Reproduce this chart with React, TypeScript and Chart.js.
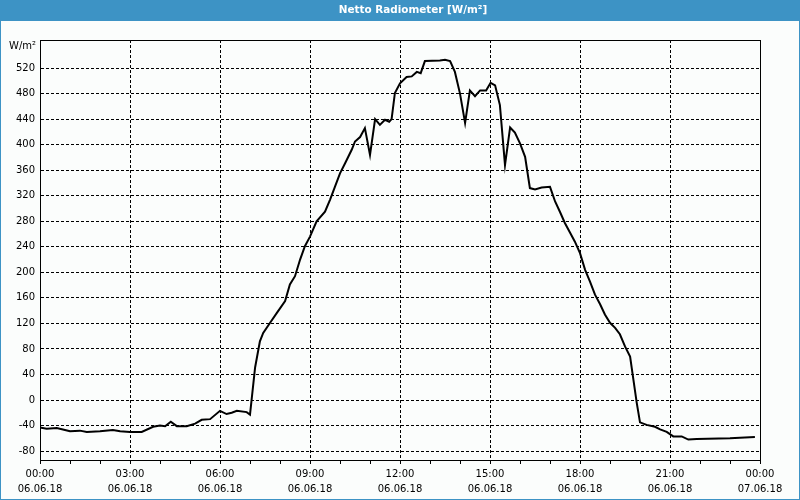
import React, { useEffect, useRef } from "react";
import { Chart, registerables } from "chart.js";

Chart.register(...registerables);

const TITLE = "Netto Radiometer [W/m²]";
const UNIT = "W/m²";

// time of day in hours
const timesH = [
  0.0, 0.22, 0.56, 1.0, 1.33, 1.56, 2.0, 2.43, 2.67, 3.0, 3.39, 3.77, 4.0, 4.17, 4.36, 4.56, 4.89,
  5.17, 5.39, 5.67, 6.0, 6.22, 6.39, 6.56, 6.89, 7.0, 7.17, 7.33, 7.44, 7.67, 7.89, 8.17, 8.33,
  8.5, 8.67, 8.83, 9.0, 9.22, 9.5, 9.67, 9.83, 10.0, 10.17, 10.39, 10.5, 10.67, 10.83, 11.0,
  11.17, 11.33, 11.5, 11.64, 11.72, 11.83, 12.0, 12.22, 12.39, 12.56, 12.69, 12.83, 13.33,
  13.5, 13.67, 13.83, 14.0, 14.17, 14.33, 14.5, 14.67, 14.87, 15.02, 15.17, 15.33, 15.5, 15.67,
  15.83, 16.0, 16.17, 16.33, 16.5, 16.72, 17.0, 17.17, 17.33, 17.5, 17.67, 17.83, 18.0, 18.17,
  18.33, 18.5, 18.67, 18.83, 19.0, 19.17, 19.33, 19.5, 19.67, 19.78, 19.89, 20.0, 20.22, 20.5,
  20.67, 20.89, 21.11, 21.39, 21.61, 21.89, 23.0, 23.83,
];

const values = [
  -43, -45, -44, -49, -48, -50, -49, -47, -49, -50, -50, -42, -40, -41, -34, -41, -41,
  -37, -31, -30, -17, -22, -20, -17, -19, -23, 51, 92, 105, 121, 136, 155, 181,
  194, 220, 241, 256, 280, 295, 314, 334, 355, 371, 392, 405, 412, 426, 384,
  440, 431, 439, 436, 440, 481, 496, 506, 507, 514, 512, 531, 532,
  533, 531, 514, 480, 434, 485, 476, 485, 485, 497, 493, 462, 368, 427,
  419, 402, 381, 332, 330, 333, 334, 311, 295, 277, 262, 248, 230, 204,
  186, 165, 150, 134, 121, 113, 103, 84, 68, 32, -4, -35, -39, -42,
  -46, -50, -57, -57, -62, -61, -60, -58,
];

const yTicks = [-80, -40, 0, 40, 80, 120, 160, 200, 240, 280, 320, 360, 400, 440, 480, 520];
const xTickHours = [0, 3, 6, 9, 12, 15, 18, 21, 24];
const xTickTimes = ["00:00", "03:00", "06:00", "09:00", "12:00", "15:00", "18:00", "21:00", "00:00"];
const xTickDates = ["06.06.18", "06.06.18", "06.06.18", "06.06.18", "06.06.18", "06.06.18", "06.06.18", "06.06.18", "07.06.18"];

const BLUE = "#3d93c5";
const BG = "#fbfdfc";

export default function App() {
  const ref = useRef<HTMLCanvasElement | null>(null);

  useEffect(() => {
    if (!ref.current) return;
    Chart.defaults.font.family = "'DejaVu Sans', sans-serif";
    Chart.defaults.font.size = 10;
    Chart.defaults.color = "#000";

    const framePlugin = {
      id: "frame",
      beforeDraw(chart: any) {
        const { ctx, width, height } = chart;
        ctx.save();
        ctx.fillStyle = BG;
        ctx.fillRect(0, 0, width, height);
        ctx.fillStyle = BLUE;
        ctx.fillRect(0, 0, width, 21);
        ctx.fillRect(0, 0, 1, height);
        ctx.fillRect(width - 1, 0, 1, height);
        ctx.fillRect(0, height - 1, width, 1);
        ctx.fillStyle = "#fff";
        ctx.font = "bold 10.4px 'DejaVu Sans', sans-serif";
        ctx.textAlign = "center";
        ctx.textBaseline = "middle";
        ctx.fillText(TITLE, 413, 10.5);
        ctx.restore();
      },
      afterDraw(chart: any) {
        const { ctx, chartArea } = chart;
        ctx.save();
        ctx.strokeStyle = "#000";
        ctx.lineWidth = 1;
        ctx.strokeRect(
          Math.round(chartArea.left) + 0.5,
          Math.round(chartArea.top) + 0.5,
          Math.round(chartArea.right - chartArea.left),
          Math.round(chartArea.bottom - chartArea.top)
        );
        ctx.fillStyle = "#000";
        ctx.font = "10px 'DejaVu Sans', sans-serif";
        ctx.textAlign = "right";
        ctx.textBaseline = "middle";
        ctx.fillText(UNIT, chartArea.left - 4, chartArea.top + 6);
        ctx.restore();
      },
    };

    const chart = new Chart(ref.current, {
      type: "line",
      data: {
        datasets: [
          {
            data: timesH.map((t, i) => ({ x: t, y: values[i] })),
            borderColor: "#000",
            borderWidth: 2,
            pointRadius: 0,
            tension: 0,
            fill: false,
          },
        ],
      },
      options: {
        animation: false,
        responsive: false,
        devicePixelRatio: 1,
        layout: { padding: { left: 0, right: 40, top: 40, bottom: 0 } },
        plugins: {
          legend: { display: false },
          tooltip: { enabled: false },
          title: { display: false },
        },
        scales: {
          x: {
            type: "linear",
            min: 0,
            max: 24,
            afterFit(scale: any) {
              scale.height = 40;
            },
            afterBuildTicks(scale: any) {
              const t: any[] = [];
              for (let h = 0; h <= 24; h++) t.push({ value: h });
              scale.ticks = t;
            },
            ticks: {
              autoSkip: false,
              maxRotation: 0,
              minRotation: 0,
              padding: 3,
              font: { size: 10, lineHeight: 1.5 },
              callback(value: any) {
                const i = xTickHours.indexOf(Number(value));
                return i >= 0 ? [xTickTimes[i], xTickDates[i]] : "";
              },
            },
            grid: {
              color: (c: any) => {
                const v = c.tick ? c.tick.value : 0;
                return v % 3 === 0 && v !== 0 && v !== 24 ? "#000" : "rgba(0,0,0,0)";
              },
              lineWidth: 1,
              drawTicks: true,
              tickLength: 4,
              tickColor: "#000",
              tickWidth: 1,
            },
            border: { display: true, color: "#000", width: 1, dash: [3, 2] },
          },
          y: {
            type: "linear",
            min: -94,
            max: 564,
            afterFit(scale: any) {
              scale.width = 40;
            },
            afterBuildTicks(scale: any) {
              scale.ticks = yTicks.map((v) => ({ value: v }));
            },
            ticks: {
              padding: 5,
              font: { size: 10 },
              callback: (v: any) => String(v),
            },
            grid: {
              color: "#000",
              lineWidth: 1,
              drawTicks: false,
            },
            border: { display: true, color: "#000", width: 1, dash: [3, 2] },
          },
        },
      },
      plugins: [framePlugin],
    } as any);

    return () => chart.destroy();
  }, []);

  return (
    <div style={{ position: "fixed", left: 0, top: 0, width: 800, height: 500 }}>
      <canvas ref={ref} width={800} height={500} />
    </div>
  );
}
